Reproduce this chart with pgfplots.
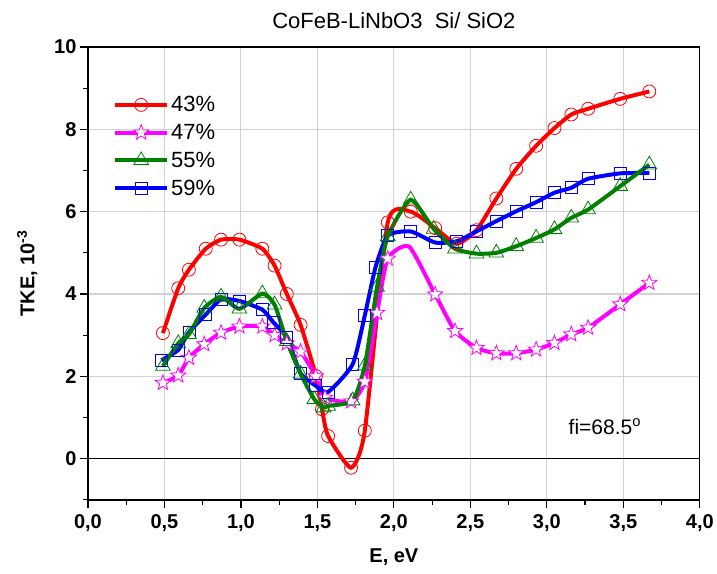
\documentclass[border=0pt]{standalone}
\usepackage{fontspec}
\setmainfont{Liberation Sans}
\usepackage{pgfplots}
\pgfplotsset{compat=1.18}
\definecolor{cRed}{RGB}{255,0,0}
\definecolor{cMag}{RGB}{255,0,255}
\definecolor{cGreen}{RGB}{0,128,0}
\definecolor{cBlue}{RGB}{0,0,255}
\newcommand{\fs}[1]{\fontsize{#1}{#1}\selectfont}
\pgfdeclareplotmark{pstar}{%
  \pgfpathmoveto{\pgfpointpolar{90}{\pgfplotmarksize}}%
  \pgfpathlineto{\pgfpointpolar{126}{0.42\pgfplotmarksize}}%
  \pgfpathlineto{\pgfpointpolar{162}{\pgfplotmarksize}}%
  \pgfpathlineto{\pgfpointpolar{198}{0.42\pgfplotmarksize}}%
  \pgfpathlineto{\pgfpointpolar{234}{\pgfplotmarksize}}%
  \pgfpathlineto{\pgfpointpolar{270}{0.42\pgfplotmarksize}}%
  \pgfpathlineto{\pgfpointpolar{306}{\pgfplotmarksize}}%
  \pgfpathlineto{\pgfpointpolar{342}{0.42\pgfplotmarksize}}%
  \pgfpathlineto{\pgfpointpolar{18}{\pgfplotmarksize}}%
  \pgfpathlineto{\pgfpointpolar{54}{0.42\pgfplotmarksize}}%
  \pgfpathclose
  \pgfusepathqfillstroke
}
\begin{document}
\begin{tikzpicture}
\begin{axis}[
  scale only axis, width=612bp, height=453bp,
  xmin=0, xmax=4, ymin=-1, ymax=10,
  xtick={0,0.5,...,4}, minor x tick num=1,
  ytick={0,2,4,6,8,10}, minor ytick={-1,1,3,5,7,9},
  tick pos=left, tick align=outside,
  major tick length=8bp, minor tick length=5bp,
  every tick/.style={black, line width=1.2pt},
  axis line style={line width=1.4pt},
  grid=major, major grid style={gray!35, line width=1.1pt},
  /pgf/number format/assume math mode=true,
  xticklabel style={/pgf/number format/.cd, fixed, fixed zerofill, precision=1, use comma},
  xticklabel shift=3bp,
  ticklabel style={font=\fs{20bp}\bfseries},
  xlabel={E, eV}, ylabel={TKE, 10\textsuperscript{-3}},
  label style={font=\fs{20bp}\bfseries},
  xlabel shift=10bp, ylabel shift=10bp,
  title={CoFeB-LiNbO3\ \ Si/ SiO2},
  title style={font=\fs{22bp}, yshift=9bp},
  legend style={draw=none, fill=none, at={(0.036,0.90)}, anchor=north west, font=\fs{22bp}, row sep=7bp},
  legend cell align=left,
  legend image code/.code={\draw[mark repeat=2, mark phase=2, #1] plot coordinates {(0bp,0bp) (26bp,0bp) (52bp,0bp)};},
  clip=false,
]
\addlegendimage{cRed, line width=4pt, mark=o, mark size=6.5bp, mark options={line width=0.8pt, fill=white, solid}}
\addlegendentry{43\%}
\addlegendimage{cMag, line width=4pt, mark=pstar, mark size=8bp, mark options={line width=0.8pt, fill=white, solid}}
\addlegendentry{47\%}
\addlegendimage{cGreen, line width=4pt, mark=triangle, mark size=8.5bp, mark options={line width=0.8pt, fill=white, solid}}
\addlegendentry{55\%}
\addlegendimage{cBlue, line width=4pt, mark=square, mark size=6bp, mark options={line width=0.8pt, fill=white, solid}}
\addlegendentry{59\%}

\addplot[black, line width=1.5pt, forget plot] coordinates {(0,0) (4,0)};

% 43%
\addplot[cRed, line width=4pt, smooth, tension=0.35, mark=o, mark size=6.5bp, mark options={line width=0.8pt, fill=white, solid}, forget plot] coordinates {
(0.49,3.05) (0.59,4.14) (0.66,4.59) (0.77,5.10) (0.87,5.32) (0.99,5.32)
(1.14,5.10) (1.22,4.69) (1.30,4.00) (1.39,3.25) (1.49,2.01) (1.53,1.20)
(1.57,0.55) (1.72,-0.22) (1.81,0.68) (1.96,5.74) (2.11,6.00) (2.27,5.60)
(2.41,5.22) (2.54,5.55) (2.67,6.32) (2.80,7.04) (2.93,7.60) (3.05,8.03)
(3.16,8.36) (3.27,8.50) (3.48,8.74) (3.67,8.92)};

% 47%
\addplot[cMag, line width=4pt, smooth, tension=0.35, mark=pstar, mark size=8bp, mark options={line width=0.8pt, fill=white, solid},
  mark indices={1,2,3,4,5,6,7,8,9,10,11,12,13,14,15,16,18,19,20,21,22,23,24,25,26,27,28}, forget plot] coordinates {
(0.49,1.84) (0.59,2.02) (0.66,2.45) (0.76,2.78) (0.87,3.06) (0.99,3.21)
(1.14,3.21) (1.22,3.00) (1.30,2.80) (1.39,2.60) (1.49,2.00) (1.55,1.48)
(1.72,1.39) (1.81,1.87) (1.89,3.54) (1.96,4.86) (2.10,5.15) (2.27,3.99)
(2.40,3.10) (2.54,2.69) (2.67,2.56) (2.80,2.56) (2.93,2.65) (3.05,2.81)
(3.16,3.02) (3.27,3.18) (3.48,3.75) (3.67,4.27)};

% 59%
\addplot[cBlue, line width=4pt, smooth, tension=0.35, mark=square, mark size=6bp, mark options={line width=0.8pt, fill=white, solid}, forget plot] coordinates {
(0.48,2.39) (0.59,2.64) (0.66,3.07) (0.77,3.50) (0.87,3.87) (0.99,3.83)
(1.14,3.62) (1.21,3.32) (1.30,2.94) (1.39,2.08) (1.49,1.77) (1.57,1.62)
(1.73,2.29) (1.81,3.48) (1.88,4.65) (1.96,5.42) (2.11,5.52) (2.27,5.25)
(2.41,5.28) (2.54,5.52) (2.67,5.77) (2.80,6.01) (2.93,6.23) (3.05,6.46)
(3.16,6.58) (3.27,6.80) (3.48,6.93) (3.67,6.94)};

% 55%
\addplot[cGreen, line width=4pt, smooth, tension=0.35, mark=triangle, mark size=8.5bp, mark options={line width=0.8pt, fill=white, solid}, forget plot] coordinates {
(0.49,2.25) (0.59,2.80) (0.66,3.02) (0.76,3.66) (0.87,3.93) (0.99,3.64)
(1.14,4.01) (1.22,3.74) (1.30,2.85) (1.39,2.06) (1.48,1.44) (1.54,1.24)
(1.57,1.28) (1.73,1.41) (1.81,2.26) (1.89,4.17) (1.96,5.40) (2.11,6.29)
(2.26,5.58) (2.40,5.10) (2.54,4.98) (2.67,5.00) (2.80,5.16) (2.93,5.36)
(3.05,5.57) (3.16,5.85) (3.27,6.05) (3.48,6.62) (3.67,7.14)};

\node[anchor=west, font=\fs{21bp}] at (axis cs:3.12,0.78) {fi=68.5\textsuperscript{o}};
\end{axis}
\path (current axis.south west) ++(-88bp,-74bp) rectangle ++(717bp,574bp);
\end{tikzpicture}
\end{document}
